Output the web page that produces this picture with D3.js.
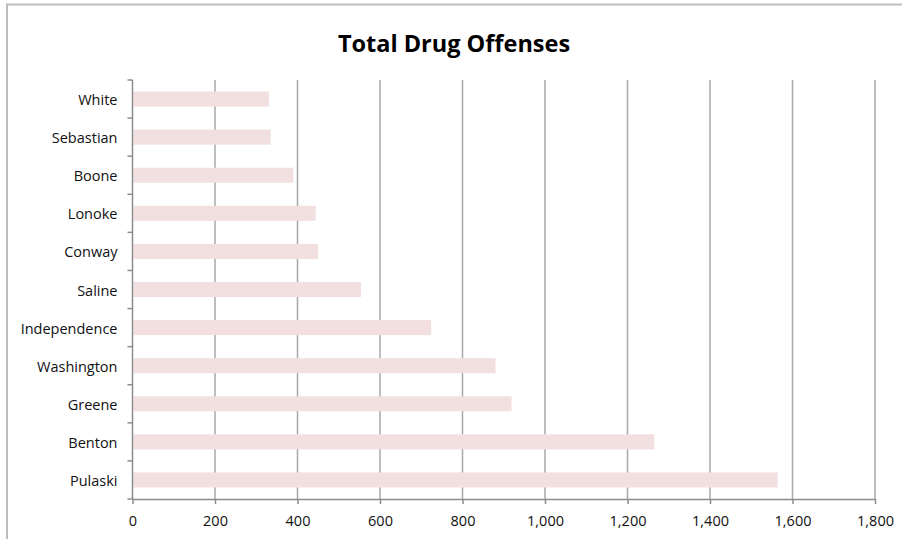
<!DOCTYPE html>
<html>
<head>
<meta charset="utf-8">
<script src="https://cdn.jsdelivr.net/npm/d3@7"></script>
<style>
html,body{margin:0;padding:0;background:#fff;}
svg{display:block;}
</style>
</head>
<body>
<svg id="chart" width="902" height="539"></svg>
<script>
const categories = ["White","Sebastian","Boone","Lonoke","Conway","Saline","Independence","Washington","Greene","Benton","Pulaski"];
const values = [331,335,390,444,450,554,724,880,919,1265,1564];
const xTicks = [0,200,400,600,800,1000,1200,1400,1600,1800];
const title = "Total Drug Offenses";

(function(){
const svg = d3.select("#chart");
const pLeft = 132.5, pRight = 875, pTop = 80, pBottom = 499;
const font = "'Open Sans', 'Liberation Sans', sans-serif";

// outer border
svg.append("path")
  .attr("d", `M7,545 L7,4.5 L910,4.5`)
  .attr("fill","none").attr("stroke","#bdbdbd").attr("stroke-width",2);

svg.append("text")
  .attr("x", 454).attr("y", 52)
  .attr("text-anchor","middle")
  .attr("font-family", font).attr("font-weight","bold")
  .attr("font-size", 23.5).attr("fill","#000")
  .text(title);

const x = d3.scaleLinear().domain([0,1800]).range([pLeft,pRight]);
const yb = d3.scaleBand().domain(categories).range([pTop,pBottom]);

// gridlines
svg.append("g").selectAll("line").data(xTicks.slice(1)).join("line")
  .attr("x1", d=>x(d)).attr("x2", d=>x(d))
  .attr("y1", pTop).attr("y2", pBottom)
  .attr("stroke","#a8a8a8").attr("stroke-width",1.5);

// bars
svg.append("g").selectAll("rect").data(categories).join("rect")
  .attr("x", x(0)+1)
  .attr("y", (d)=> yb(d) + yb.bandwidth()/2 - 7.5)
  .attr("width", (d,i)=> x(values[i]) - x(0) - 1)
  .attr("height", 15)
  .attr("fill","#f2dfdf");

// x axis
const xAxis = d3.axisBottom(x).tickValues(xTicks).tickSize(5).tickSizeOuter(0)
  .tickFormat(d3.format(","));
const gx = svg.append("g").attr("transform",`translate(0,${pBottom})`).call(xAxis);
gx.select(".domain").attr("stroke","#8c8c8c").attr("stroke-width",1.5);
gx.selectAll(".tick line").attr("stroke","#8c8c8c").attr("stroke-width",1.5);
gx.selectAll("text").attr("font-family",font).attr("font-size",14.5).attr("fill","#111").attr("dy","1.3em");

// y axis with ticks at band boundaries
const gy = svg.append("g").attr("transform",`translate(${pLeft},0)`);
gy.append("line").attr("x1",0).attr("x2",0).attr("y1",pTop).attr("y2",pBottom)
  .attr("stroke","#8c8c8c").attr("stroke-width",1.5);
const bounds = categories.map(c=>yb(c)).concat([pBottom]);
gy.selectAll("line.tk").data(bounds).join("line").attr("class","tk")
  .attr("x1",-5).attr("x2",0).attr("y1",d=>d).attr("y2",d=>d)
  .attr("stroke","#8c8c8c").attr("stroke-width",1.5);
gy.selectAll("text").data(categories).join("text")
  .attr("x",-15).attr("y",d=>yb(d)+yb.bandwidth()/2 + 1)
  .attr("dy","0.35em").attr("text-anchor","end")
  .attr("font-family",font).attr("font-size",14.5).attr("fill","#111")
  .text(d=>d);
})();
</script>
</body>
</html>
